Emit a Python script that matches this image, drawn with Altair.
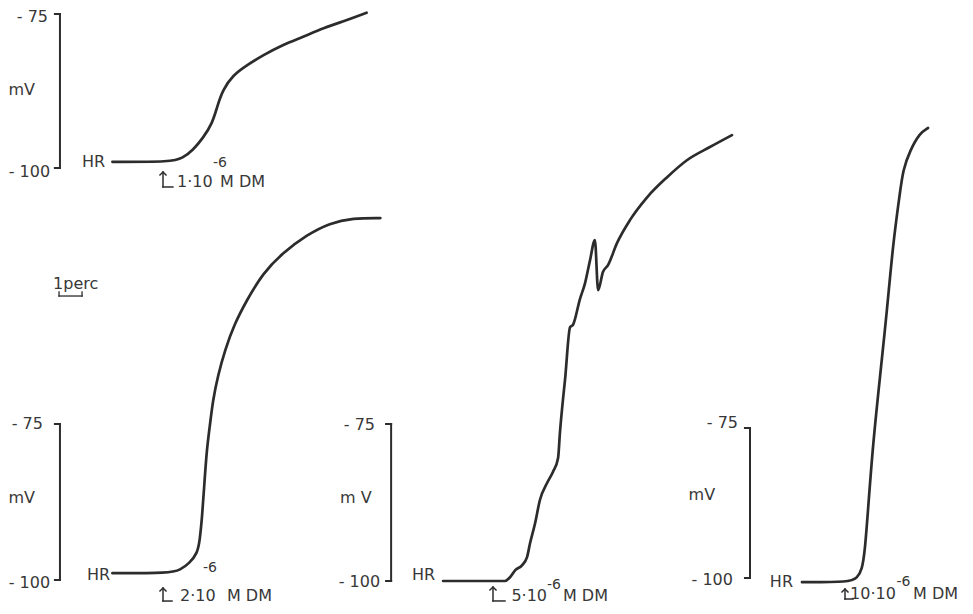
import altair as alt
import pandas as pd

INK = "#2c2c2c"
TXT = "#383838"
FONT = "DejaVu Sans"
PX_PER_MIN = 23  # chart-recorder speed: 1 perc bar

# ---------------- traces: time after drug (perc) and membrane potential (mV)
A_T = [-2.2, 0.4, 0.85, 1.3, 1.75, 2.15, 2.35, 2.6, 3.05, 3.65, 4.35, 5.2, 6.1, 6.95, 8.0, 8.85]
A_MV = [-99.0, -99.0, -98.4, -97.1, -95.1, -92.7, -90.1, -87.3, -84.9, -83.3, -81.7, -80.0, -78.7, -77.3, -76.0, -74.8]

B_T = [-2.2, 0.3, 0.75, 1.15, 1.5, 1.6, 1.7, 1.8, 1.9, 2.04, 2.17, 2.39, 2.7, 3.09, 3.65, 4.35, 5.2, 6.25, 7.25, 8.25, 9.45]
B_MV = [-98.9, -98.9, -98.4, -97.3, -95.7, -93.6, -89.9, -84.5, -79.2, -75.2, -71.2, -67.2, -63.1, -59.1, -55.1, -50.8, -47.6, -44.7, -42.8, -42.0, -42.0]

C_T = [-2.17, 0.52, 0.74, 0.96, 1.26, 1.48, 1.61, 1.83, 2.04, 2.35, 2.61, 2.83, 2.91, 3.04, 3.13, 3.35, 3.48,
       3.78, 4.0, 4.22, 4.43, 4.57, 4.78, 5.0, 5.39, 5.96, 6.7, 7.57, 8.43, 9.43, 10.39]
C_MV = [-100.0, -100.0, -99.4, -98.3, -97.5, -96.2, -94.0, -90.8, -87.1, -84.4, -82.6, -80.4, -76.4, -71.2, -68.0, -59.6, -59.2,
        -55.1, -52.6, -48.9, -45.7, -53.7, -50.8, -49.7, -46.2, -42.5, -38.9, -35.7, -33.0, -30.9, -29.0]

D_T = [-1.87, 0.22, 0.52, 0.74, 0.87, 1.0, 1.22, 1.52, 1.83, 2.09, 2.39, 2.52, 2.83, 3.26, 3.61]
D_MV = [-100.7, -100.7, -100.0, -98.7, -95.3, -88.7, -77.5, -66.5, -55.3, -44.2, -35.8, -32.0, -28.7, -25.8, -25.0]

DOSES = ["1·10", "2·10", "5·10", "10·10"]
SCALE_LABELS = ["- 75", "- 100"]
UNIT_LABELS = ["mV", "mV", "m V", "mV"]
BASE_LABEL = "HR"
EXPONENT = "-6"
DRUG = "M  DM"
TIME_LABEL = "1perc"

# ---------------- layout (scale anchoring and annotation placement)
PANELS = [
    dict(t=A_T, mv=A_MV, x0=163, y100=168, y75=14, bar=-4.48, interp="basis",
         l75=(-5.0, -75.5), l100=(-4.91, -100.6), lmv=(-6.72, -87.3), hr=(-2.52, -99.0),
         tip=-100.65, foot=-103.08, hor=0.43, main=(0.61, -103.08), sup=(2.17, -99.84), mdm=(2.48, -103.08)),
    dict(t=B_T, mv=B_MV, x0=163, y100=580, y75=424, bar=-4.48, interp="basis",
         l75=(-5.22, -75.0), l100=(-4.91, -100.5), lmv=(-6.72, -86.9), hr=(-2.30, -99.2),
         tip=-101.28, foot=-103.37, hor=0.39, main=(0.74, -103.37), sup=(1.74, -98.72), mdm=(2.78, -103.37)),
    dict(t=C_T, mv=C_MV, x0=493, y100=581, y75=424, bar=-4.43, interp="monotone",
         l75=(-5.13, -75.2), l100=(-4.91, -100.2), lmv=(-6.65, -86.8), hr=(-2.52, -99.0),
         tip=-100.96, foot=-103.18, hor=0.52, main=(0.8, -103.18), sup=(2.35, -101.3), mdm=(3.04, -103.18)),
    dict(t=D_T, mv=D_MV, x0=845, y100=578, y75=428, bar=-4.13, interp="basis",
         l75=(-4.65, -74.2), l100=(-4.87, -100.3), lmv=(-6.8, -86.2), hr=(-2.26, -100.7),
         tip=-101.83, foot=-103.5, hor=0.35, main=(0.22, -103.5), sup=(2.24, -101.4), mdm=(2.96, -103.5)),
]
TICK = 0.22
PERC = dict(t0=-4.52, t1=-3.52, mv=-54.49, up=-53.85, text=(-4.78, -53.37))


def xs(p):
    return alt.Scale(domain=[0, 10], range=[p["x0"] - 8, p["x0"] - 8 + 10 * PX_PER_MIN], nice=False, zero=False)


def ys(p):
    return alt.Scale(domain=[-100, -75], range=[p["y100"] - 8, p["y75"] - 8], nice=False, zero=False)


def enc(p, xf="t", yf="mv"):
    return dict(x=alt.X(f"{xf}:Q", scale=xs(p), axis=None), y=alt.Y(f"{yf}:Q", scale=ys(p), axis=None))


layers = []
for i, p in enumerate(PANELS):
    trace = pd.DataFrame({"t": p["t"], "mv": p["mv"]})
    layers.append(alt.Chart(trace).mark_line(interpolate=p["interp"], color=INK, strokeWidth=2.7,
                                             strokeCap="round", strokeJoin="round").encode(**enc(p)))

    segs = [
        (p["bar"], -100, p["bar"], -75, 2.0),
        (p["bar"] - TICK, -75, p["bar"], -75, 2.0),
        (p["bar"] - TICK, -100, p["bar"], -100, 2.0),
        (0, p["tip"], 0, p["foot"], 1.5),
        (0, p["foot"], p["hor"], p["foot"], 1.5),
    ]
    if i == 1:
        segs += [
            (PERC["t0"], PERC["mv"], PERC["t1"], PERC["mv"], 1.3),
            (PERC["t0"], PERC["up"], PERC["t0"], PERC["mv"], 1.3),
            (PERC["t1"], PERC["up"], PERC["t1"], PERC["mv"], 1.3),
        ]
    sdf = pd.DataFrame(segs, columns=["t", "mv", "t2", "mv2", "w"])
    e = enc(p)
    layers.append(alt.Chart(sdf).mark_rule(color=INK, strokeCap="square").encode(
        x=e["x"], y=e["y"], x2="t2:Q", y2="mv2:Q", strokeWidth=alt.StrokeWidth("w:Q", scale=None)))

    head = pd.DataFrame({"t": [0], "mv": [p["tip"]]})
    layers.append(alt.Chart(head).mark_point(shape="M-1,1L0,0L1,1", filled=False, size=50, color=INK,
                                             strokeWidth=1.5, opacity=1).encode(**enc(p)))

    right = pd.DataFrame({
        "t": [p["l75"][0], p["l100"][0], p["hr"][0]],
        "mv": [p["l75"][1], p["l100"][1], p["hr"][1]],
        "label": [SCALE_LABELS[0], SCALE_LABELS[1], BASE_LABEL],
    })
    layers.append(alt.Chart(right).mark_text(align="right", baseline="middle", font=FONT, fontSize=16,
                                             color=TXT).encode(text="label:N", **enc(p)))

    unit = pd.DataFrame({"t": [p["lmv"][0]], "mv": [p["lmv"][1]], "label": [UNIT_LABELS[i]]})
    layers.append(alt.Chart(unit).mark_text(align="left", baseline="middle", font=FONT, fontSize=16,
                                            color=TXT).encode(text="label:N", **enc(p)))

    lt = [p["main"][0], p["mdm"][0]]
    lm = [p["main"][1], p["mdm"][1]]
    ll = [DOSES[i], DRUG]
    if i == 1:
        lt.append(PERC["text"][0]); lm.append(PERC["text"][1]); ll.append(TIME_LABEL)
    left = pd.DataFrame({"t": lt, "mv": lm, "label": ll})
    layers.append(alt.Chart(left).mark_text(align="left", baseline="alphabetic", font=FONT, fontSize=16,
                                            color=TXT).encode(text="label:N", **enc(p)))

    sup = pd.DataFrame({"t": [p["sup"][0]], "mv": [p["sup"][1]], "label": [EXPONENT]})
    layers.append(alt.Chart(sup).mark_text(align="left", baseline="alphabetic", font=FONT, fontSize=14,
                                           color=TXT).encode(text="label:N", **enc(p)))

chart = alt.layer(*layers).resolve_scale(x="independent", y="independent").properties(
    width=957, height=598, padding=0, background="white",
    autosize=alt.AutoSizeParams(type="none"),
).configure_view(stroke=None)

chart.save("out.html", embed_options={"renderer": "svg", "actions": False})
